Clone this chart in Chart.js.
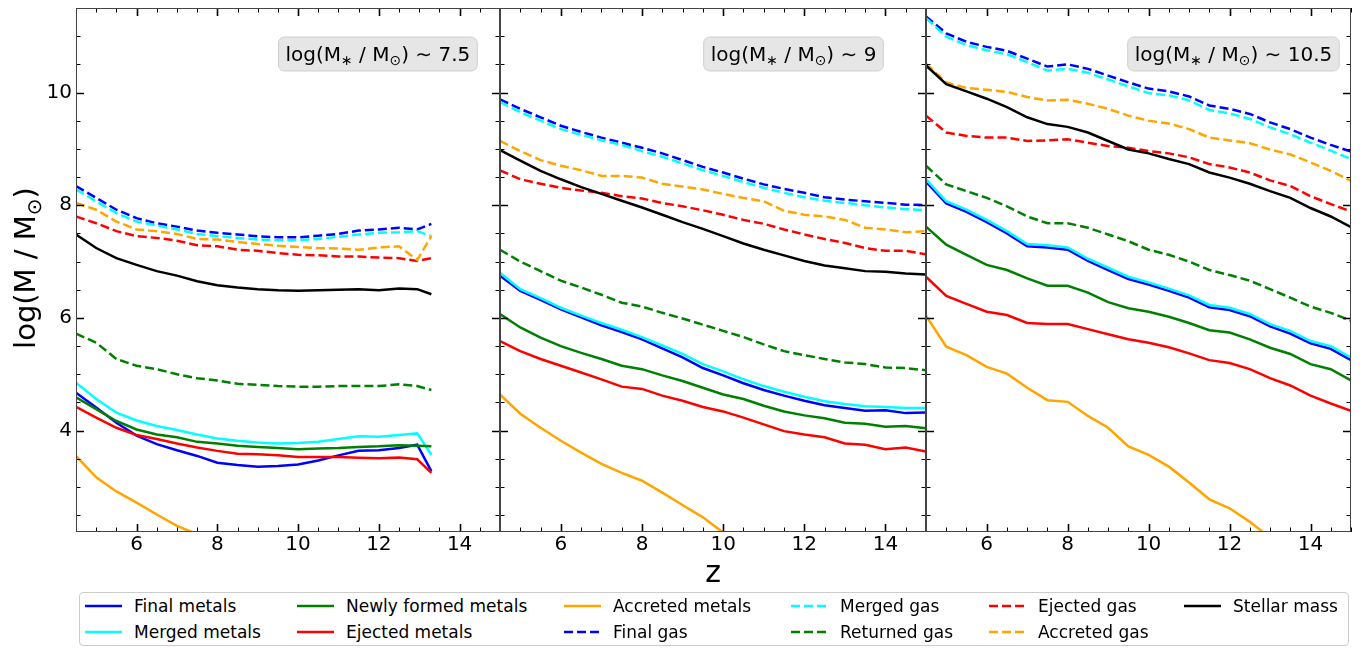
<!DOCTYPE html>
<html>
<head>
<meta charset="utf-8">
<script src="https://cdn.jsdelivr.net/npm/chart.js@4"></script>
<style>
  body { margin: 0; background: #fff; }
  #fig { position: relative; width: 1365px; height: 648px; overflow: hidden; font-family: "DejaVu Sans", sans-serif; }
  #fig canvas { position: absolute; top: 0; }
  #legend { position: absolute; left: 79px; top: 592px; width: 1270px; height: 54px; box-sizing: border-box;
            border: 1px solid #cccccc; border-radius: 4px; background: rgba(255,255,255,0.8); }
  .item { position: absolute; height: 20px; font-size: 17px; line-height: 20px; white-space: nowrap; color: #000; }
  .item svg { position: absolute; left: 0; top: 5px; }
  .item span { position: absolute; left: 49px; top: 0; }
</style>
</head>
<body>
<div id="fig">
  <canvas id="panel1" width="510" height="592" style="left:0px"></canvas>
  <canvas id="panel2" width="446" height="592" style="left:490px"></canvas>
  <canvas id="panel3" width="445" height="592" style="left:916px"></canvas>
  <div id="legend"></div>
</div>
<script>
// redshift snapshots (panel 1 stops earlier)
const zSnapLow = [4.5, 5, 5.5, 6, 6.5, 7, 7.5, 8, 8.5, 9, 9.5, 10, 10.5, 11, 11.5, 12, 12.5, 12.95, 13.3];
const zSnap = [4.5, 5, 5.5, 6, 6.5, 7, 7.5, 8, 8.5, 9, 9.5, 10, 10.5, 11, 11.5, 12, 12.5, 13, 13.5, 14, 14.5, 15];
const panelZ = [zSnapLow, zSnap, zSnap];
const massBins = ['7.5', '9', '10.5'];

const xMajorTicks = [6, 8, 10, 12, 14];
const yMajorTicks = [4, 6, 8, 10];

// log(M / Msun) per panel: [~7.5, ~9, ~10.5]
const finalMetals = [
  [4.67, 4.41, 4.14, 3.91, 3.76, 3.65, 3.55, 3.43, 3.39, 3.36, 3.37, 3.40, 3.47, 3.56, 3.64, 3.65, 3.69, 3.75, 3.28],
  [6.75, 6.48, 6.32, 6.15, 6.01, 5.87, 5.75, 5.62, 5.46, 5.30, 5.11, 4.98, 4.84, 4.72, 4.62, 4.53, 4.45, 4.40, 4.35, 4.36, 4.31, 4.32],
  [8.42, 8.03, 7.88, 7.70, 7.50, 7.27, 7.25, 7.21, 7.01, 6.85, 6.69, 6.59, 6.48, 6.36, 6.19, 6.14, 6.03, 5.85, 5.72, 5.55, 5.45, 5.25]
];
const mergedMetals = [
  [4.85, 4.56, 4.32, 4.18, 4.08, 4.01, 3.93, 3.86, 3.82, 3.79, 3.77, 3.78, 3.80, 3.85, 3.90, 3.89, 3.92, 3.95, 3.57],
  [6.80, 6.51, 6.35, 6.18, 6.04, 5.91, 5.79, 5.66, 5.51, 5.36, 5.18, 5.05, 4.91, 4.79, 4.69, 4.60, 4.52, 4.47, 4.43, 4.42, 4.40, 4.40],
  [8.46, 8.07, 7.92, 7.74, 7.54, 7.31, 7.29, 7.25, 7.05, 6.89, 6.73, 6.63, 6.52, 6.40, 6.23, 6.18, 6.07, 5.89, 5.77, 5.59, 5.50, 5.30]
];
const newMetals = [
  [4.59, 4.38, 4.17, 4.02, 3.93, 3.88, 3.80, 3.77, 3.73, 3.71, 3.69, 3.67, 3.68, 3.69, 3.71, 3.72, 3.74, 3.73, 3.72],
  [6.07, 5.83, 5.65, 5.50, 5.38, 5.27, 5.15, 5.09, 4.98, 4.88, 4.76, 4.64, 4.56, 4.44, 4.34, 4.27, 4.22, 4.14, 4.12, 4.07, 4.08, 4.04],
  [7.62, 7.30, 7.12, 6.94, 6.85, 6.70, 6.57, 6.57, 6.45, 6.28, 6.17, 6.11, 6.02, 5.91, 5.78, 5.74, 5.62, 5.47, 5.36, 5.18, 5.09, 4.89]
];
const ejectedMetals = [
  [4.42, 4.23, 4.05, 3.92, 3.85, 3.77, 3.70, 3.64, 3.59, 3.58, 3.56, 3.53, 3.53, 3.53, 3.52, 3.51, 3.52, 3.49, 3.25],
  [5.59, 5.41, 5.27, 5.15, 5.03, 4.91, 4.78, 4.74, 4.62, 4.53, 4.42, 4.34, 4.23, 4.11, 3.99, 3.93, 3.88, 3.77, 3.75, 3.67, 3.70, 3.63],
  [6.73, 6.39, 6.25, 6.11, 6.05, 5.91, 5.89, 5.89, 5.80, 5.71, 5.62, 5.56, 5.48, 5.37, 5.25, 5.20, 5.09, 4.93, 4.80, 4.62, 4.48, 4.35]
];
const accretedMetals = [
  [3.55, 3.17, 2.92, 2.72, 2.51, 2.31, 2.16, 1.98],
  [4.64, 4.30, 4.05, 3.82, 3.61, 3.41, 3.25, 3.11, 2.90, 2.68, 2.46, 2.19, 1.92],
  [6.04, 5.49, 5.34, 5.13, 5.01, 4.76, 4.54, 4.51, 4.26, 4.05, 3.72, 3.57, 3.36, 3.08, 2.78, 2.62, 2.38, 2.10]
];
const finalGas = [
  [8.34, 8.13, 7.92, 7.77, 7.68, 7.62, 7.55, 7.51, 7.48, 7.45, 7.43, 7.43, 7.46, 7.49, 7.55, 7.57, 7.60, 7.57, 7.67],
  [9.88, 9.71, 9.56, 9.41, 9.30, 9.20, 9.11, 9.02, 8.92, 8.80, 8.68, 8.58, 8.47, 8.37, 8.29, 8.22, 8.14, 8.10, 8.07, 8.04, 8.01, 8.00],
  [11.35, 11.05, 10.90, 10.81, 10.74, 10.60, 10.46, 10.50, 10.42, 10.30, 10.18, 10.07, 10.02, 9.93, 9.77, 9.71, 9.62, 9.47, 9.35, 9.20, 9.07, 8.95]
];
const mergedGas = [
  [8.28, 8.07, 7.86, 7.71, 7.64, 7.57, 7.49, 7.45, 7.42, 7.39, 7.38, 7.38, 7.40, 7.44, 7.48, 7.51, 7.52, 7.54, 7.45],
  [9.83, 9.65, 9.50, 9.35, 9.25, 9.15, 9.07, 8.96, 8.86, 8.74, 8.62, 8.52, 8.41, 8.31, 8.22, 8.14, 8.08, 8.04, 8.00, 7.96, 7.93, 7.91],
  [11.32, 10.99, 10.84, 10.75, 10.68, 10.54, 10.39, 10.42, 10.35, 10.23, 10.11, 9.99, 9.95, 9.86, 9.69, 9.63, 9.53, 9.38, 9.26, 9.11, 8.97, 8.82]
];
const returnedGas = [
  [5.72, 5.56, 5.27, 5.15, 5.09, 5.00, 4.93, 4.89, 4.83, 4.81, 4.79, 4.78, 4.78, 4.79, 4.79, 4.79, 4.82, 4.79, 4.72],
  [7.21, 7.00, 6.83, 6.66, 6.54, 6.41, 6.27, 6.20, 6.09, 5.99, 5.88, 5.77, 5.66, 5.53, 5.41, 5.34, 5.27, 5.21, 5.18, 5.12, 5.11, 5.07],
  [8.70, 8.37, 8.25, 8.13, 7.98, 7.80, 7.68, 7.68, 7.60, 7.48, 7.36, 7.21, 7.12, 7.00, 6.85, 6.76, 6.66, 6.51, 6.36, 6.20, 6.09, 5.95]
];
const ejectedGas = [
  [7.80, 7.68, 7.54, 7.45, 7.42, 7.37, 7.29, 7.27, 7.21, 7.19, 7.15, 7.12, 7.11, 7.09, 7.09, 7.07, 7.06, 7.01, 7.06],
  [8.62, 8.46, 8.38, 8.31, 8.26, 8.22, 8.16, 8.12, 8.04, 7.98, 7.91, 7.83, 7.74, 7.67, 7.57, 7.48, 7.40, 7.33, 7.24, 7.19, 7.19, 7.13],
  [9.59, 9.29, 9.23, 9.20, 9.20, 9.14, 9.15, 9.17, 9.11, 9.05, 9.02, 8.96, 8.92, 8.85, 8.73, 8.67, 8.58, 8.44, 8.34, 8.16, 8.02, 7.89]
];
const accretedGas = [
  [8.04, 7.92, 7.71, 7.57, 7.54, 7.49, 7.40, 7.39, 7.35, 7.31, 7.28, 7.26, 7.24, 7.23, 7.21, 7.25, 7.27, 7.03, 7.45],
  [9.14, 8.96, 8.80, 8.70, 8.62, 8.52, 8.52, 8.49, 8.38, 8.33, 8.28, 8.20, 8.13, 8.07, 7.90, 7.83, 7.80, 7.74, 7.60, 7.57, 7.52, 7.54],
  [10.51, 10.18, 10.08, 10.05, 10.01, 9.92, 9.86, 9.87, 9.80, 9.71, 9.59, 9.50, 9.45, 9.35, 9.20, 9.15, 9.10, 8.99, 8.90, 8.76, 8.61, 8.43]
];
const stellarMass = [
  [7.48, 7.24, 7.06, 6.94, 6.83, 6.75, 6.65, 6.58, 6.54, 6.51, 6.49, 6.48, 6.49, 6.50, 6.51, 6.49, 6.52, 6.51, 6.42],
  [8.98, 8.79, 8.61, 8.46, 8.32, 8.20, 8.08, 7.96, 7.83, 7.70, 7.58, 7.45, 7.32, 7.21, 7.11, 7.01, 6.93, 6.88, 6.83, 6.82, 6.79, 6.77],
  [10.48, 10.15, 10.02, 9.89, 9.74, 9.56, 9.44, 9.39, 9.29, 9.14, 8.99, 8.92, 8.82, 8.73, 8.58, 8.49, 8.38, 8.25, 8.13, 7.95, 7.80, 7.61]
];

const seriesNames = ['Final metals', 'Merged metals', 'Newly formed metals', 'Ejected metals', 'Accreted metals',
  'Final gas', 'Merged gas', 'Returned gas', 'Ejected gas', 'Accreted gas', 'Stellar mass'];
const seriesValues = [finalMetals, mergedMetals, newMetals, ejectedMetals, accretedMetals,
  finalGas, mergedGas, returnedGas, ejectedGas, accretedGas, stellarMass];
const seriesColors = ['#0000ff', '#00ffff', '#008000', '#ff0000', '#ffa500',
  '#0000ff', '#00ffff', '#008000', '#ff0000', '#ffa500', '#000000'];
const seriesDashed = [false, false, false, false, false, true, true, true, true, true, false];

const FONT = "'DejaVu Sans', sans-serif";
const DASH = [9, 4];
Chart.defaults.font.family = FONT;
Chart.defaults.color = '#000';

// inward ticks on all four sides + spines
const axisFrame = {
  id: 'axisFrame',
  afterDatasetsDraw(chart) {
    const { ctx, chartArea: a, scales: { x, y } } = chart;
    ctx.save();
    ctx.strokeStyle = '#000';
    for (let v = x.min; v <= x.max + 1e-6; v += 0.5) {
      const major = xMajorTicks.includes(v);
      const len = major ? 8 : 4.5;
      const px = Math.round(x.getPixelForValue(v)) + 0.5;
      ctx.lineWidth = major ? 1.6 : 1;
      ctx.beginPath();
      ctx.moveTo(px, a.bottom); ctx.lineTo(px, a.bottom - len);
      ctx.moveTo(px, a.top); ctx.lineTo(px, a.top + len);
      ctx.stroke();
    }
    for (let v = 2.5; v <= y.max + 1e-6; v += 0.5) {
      const major = yMajorTicks.includes(v);
      const len = major ? 8 : 4.5;
      const py = Math.round(y.getPixelForValue(v)) + 0.5;
      ctx.lineWidth = major ? 1.6 : 1;
      ctx.beginPath();
      ctx.moveTo(a.left, py); ctx.lineTo(a.left + len, py);
      ctx.moveTo(a.right, py); ctx.lineTo(a.right - len, py);
      ctx.stroke();
    }
    ctx.strokeStyle = '#444';
    ctx.lineWidth = 1;
    ctx.strokeRect(Math.round(a.left) + 0.5, Math.round(a.top) + 0.5,
      Math.round(a.width) - 1, Math.round(a.height) - 1);
    ctx.restore();
  }
};

// draws runs of [text, isSubscript] starting at x, baseline y
function drawRuns(ctx, runs, x, y, size) {
  runs.forEach(([t, sub]) => {
    ctx.font = (sub ? Math.round(size * 0.7) : size) + 'px ' + FONT;
    ctx.fillText(t, x, sub ? y + size * 0.2 : y);
    x += ctx.measureText(t).width;
  });
}
function runsWidth(ctx, runs, size) {
  let w = 0;
  runs.forEach(([t, sub]) => {
    ctx.font = (sub ? Math.round(size * 0.7) : size) + 'px ' + FONT;
    w += ctx.measureText(t).width;
  });
  return w;
}

const panelLabel = {
  id: 'panelLabel',
  afterDraw(chart, args, opts) {
    if (!opts.text) return;
    const { ctx, chartArea: a } = chart;
    const size = 20;
    const runs = [['log(M', false], ['\u2217', true], [' / M', false], ['\u2299', true], [') \u223C ' + opts.text, false]];
    ctx.save();
    ctx.textBaseline = 'alphabetic';
    ctx.textAlign = 'left';
    const w = runsWidth(ctx, runs, size) + 14;
    const h = 34;
    const cx = a.left + a.width * opts.cx;
    const cy = 54;
    ctx.beginPath();
    ctx.roundRect(cx - w / 2, cy - h / 2, w, h, 6);
    ctx.fillStyle = '#e6e6e6';
    ctx.fill();
    ctx.strokeStyle = '#cfcfcf';
    ctx.lineWidth = 1;
    ctx.stroke();
    ctx.fillStyle = '#000';
    drawRuns(ctx, runs, cx - w / 2 + 7, cy + 7, size);
    ctx.restore();
  }
};

const yTitle = {
  id: 'yTitle',
  afterDraw(chart, args, opts) {
    if (!opts.show) return;
    const { ctx } = chart;
    const size = 29;
    const runs = [['log(M / M', false], ['\u2299', true], [')', false]];
    ctx.save();
    ctx.translate(35, 268);
    ctx.rotate(-Math.PI / 2);
    ctx.fillStyle = '#000';
    ctx.textBaseline = 'alphabetic';
    ctx.textAlign = 'left';
    const w = runsWidth(ctx, runs, size);
    drawRuns(ctx, runs, -w / 2, 0, size);
    ctx.restore();
  }
};

function makePanel(canvasId, p) {
  const datasets = seriesNames.map((name, i) => ({
    label: name,
    data: seriesValues[i][p].map((v, k) => ({ x: panelZ[p][k], y: v })),
    borderColor: seriesColors[i],
    backgroundColor: seriesColors[i],
    borderDash: seriesDashed[i] ? DASH : [],
    borderWidth: 2.5,
    pointRadius: 0,
    tension: 0,
    fill: false,
    clip: 0,
    order: seriesNames.length - i
  }));
  const first = p === 0;
  return new Chart(document.getElementById(canvasId), {
    type: 'line',
    data: { datasets },
    options: {
      responsive: false,
      animation: false,
      layout: { padding: { left: first ? 0 : 10, right: 10, top: 8, bottom: 0 } },
      scales: {
        x: {
          type: 'linear', min: 4.5, max: 15,
          grid: { display: false, drawTicks: false },
          border: { display: false },
          ticks: { font: { size: 20 }, color: '#000', padding: 1, maxRotation: 0, autoSkip: false },
          afterBuildTicks: s => { s.ticks = xMajorTicks.map(v => ({ value: v })); },
          afterFit: s => { s.height = 60; s.paddingLeft = 0; s.paddingRight = 0; },
          title: { display: p === 1, text: 'z', font: { size: 30 }, color: '#000', padding: 0 }
        },
        y: {
          type: 'linear', min: 2.2, max: 11.5,
          display: first,
          grid: { display: false, drawTicks: false },
          border: { display: false },
          ticks: { font: { size: 20 }, color: '#000', padding: 4 },
          afterBuildTicks: s => { s.ticks = yMajorTicks.map(v => ({ value: v })); },
          afterFit: s => { s.width = first ? 76 : 0; s.paddingTop = 0; s.paddingBottom = 0; }
        }
      },
      plugins: {
        legend: { display: false },
        tooltip: { enabled: false },
        panelLabel: { text: massBins[p], cx: [0.712, 0.689, 0.7235][p] },
        yTitle: { show: first }
      }
    },
    plugins: [axisFrame, panelLabel, yTitle]
  });
}

makePanel('panel1', 0);
makePanel('panel2', 1);
makePanel('panel3', 2);

// legend, filled column by column (2 rows)
const legendCols = [85, 297, 564, 791, 989, 1184];
const legendRows = [606, 632];
const legend = document.getElementById('legend');
seriesNames.forEach((name, i) => {
  const col = Math.floor(i / 2), row = i % 2;
  const item = document.createElement('div');
  item.className = 'item';
  item.style.left = (legendCols[col] - 80) + 'px';
  item.style.top = (legendRows[row] - 10 - 593) + 'px';
  const dash = seriesDashed[i] ? ` stroke-dasharray="${DASH.join(' ')}"` : '';
  item.innerHTML = `<svg width="37" height="10"><line x1="0" y1="5" x2="37" y2="5" stroke="${seriesColors[i]}" stroke-width="2.5"${dash}/></svg><span>${name}</span>`;
  legend.appendChild(item);
});
</script>
</body>
</html>
